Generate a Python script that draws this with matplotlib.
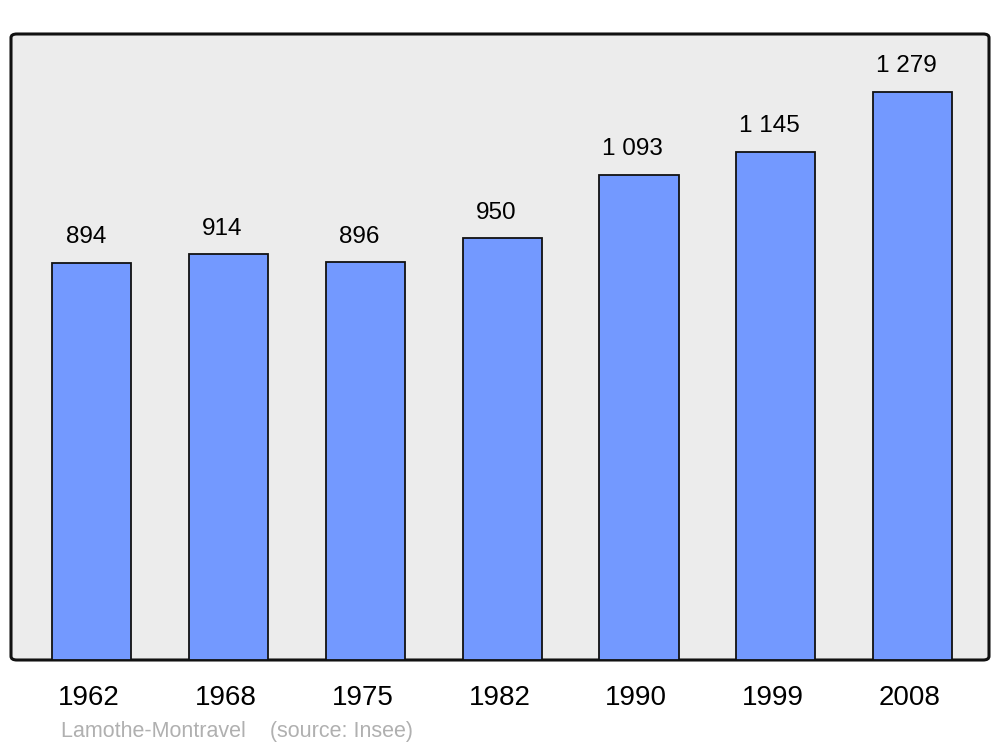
import matplotlib.pyplot as plt
from matplotlib.patches import FancyBboxPatch

years = ['1962', '1968', '1975', '1982', '1990', '1999', '2008']
population = [894, 914, 896, 950, 1093, 1145, 1279]
value_labels = ['894', '914', '896', '950', '1 093', '1 145', '1 279']

plt.rcParams['font.family'] = ['Liberation Sans', 'DejaVu Sans']

fig = plt.figure(figsize=(10, 7.47), dpi=100)
ax = fig.add_axes([0.011, 87 / 747, 0.978, 626 / 747])
ax.set_xlim(-0.592, 6.559)
ax.set_ylim(0, 1410)
ax.axis('off')

# grey panel with rounded border
panel = FancyBboxPatch((0, 0), 1, 1, boxstyle='round,pad=0,rounding_size=0.006',
                       transform=ax.transAxes, facecolor='#ececec',
                       edgecolor='#111111', linewidth=2.2, clip_on=False, zorder=0)
ax.add_patch(panel)

xs = range(len(years))
ax.bar(xs, population, width=0.578, color='#7399ff', edgecolor='#111111',
       linewidth=1.3, zorder=2)

for x, v, lab in zip(xs, population, value_labels):
    ax.annotate(lab, (x, v), xytext=(-4.5, 18.5), textcoords='offset points',
                ha='center', va='center', fontsize=17.5, color='black')

for x, yr in zip(xs, years):
    ax.annotate(yr, (x, 0), xytext=(-2, -27.5), textcoords='offset points',
                ha='center', va='center', fontsize=20, color='black',
                annotation_clip=False)

fig.text(0.061, 1 - 731 / 747, 'Lamothe-Montravel    (source: Insee)',
         ha='left', va='center', fontsize=15.5, color='#b0b0b0')

fig.savefig('out.png', dpi=100)
